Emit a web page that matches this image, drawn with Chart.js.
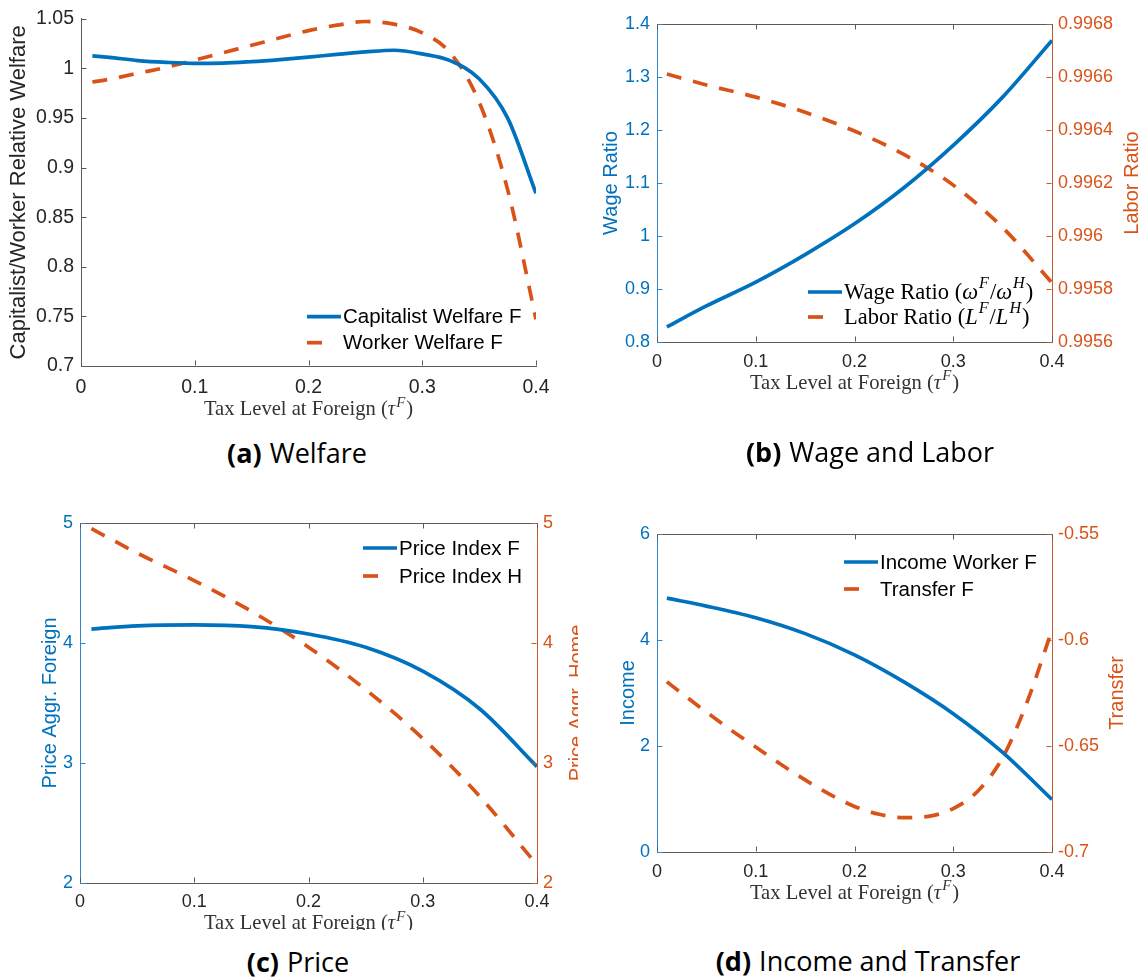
<!DOCTYPE html>
<html>
<head>
<meta charset="utf-8">
<script src="https://cdn.jsdelivr.net/npm/chart.js@4.4.1/dist/chart.umd.min.js"></script>
<style>
  body { margin: 0; background: #fff; width: 1145px; height: 979px; position: relative; overflow: hidden; }
  .panel { position: absolute; }
  .panel canvas { display: block; }
  .cap { position: absolute; width: 600px; text-align: center; font-family: 'Open Sans', sans-serif;
         font-size: 27px; line-height: 30px; color: #000; white-space: nowrap; }
  .cap b { font-weight: 700; margin-right: 8px; }
</style>
</head>
<body>
<div class="panel" style="left:0;top:0"><canvas id="welfare" width="572" height="430"></canvas></div>
<div class="panel" style="left:572px;top:0"><canvas id="wageLabor" width="573" height="430"></canvas></div>
<div class="panel" style="left:0;top:480px"><canvas id="price" width="578" height="450"></canvas></div>
<div class="panel" style="left:572px;top:480px"><canvas id="income" width="573" height="445"></canvas></div>

<div class="cap" style="left:-3px;top:438px"><b>(a)</b>Welfare</div>
<div class="cap" style="left:570px;top:437px"><b>(b)</b>Wage and Labor</div>
<div class="cap" style="left:-2px;top:947px"><b>(c)</b>Price</div>
<div class="cap" style="left:568px;top:946px"><b>(d)</b>Income and Transfer</div>

<script>
// ---- data ----
const taxTicks = [0, 0.1, 0.2, 0.3, 0.4];
const taxTickLabels = ['0', '0.1', '0.2', '0.3', '0.4'];

// tax grids
const taxFine = [0.01, 0.025, 0.05, 0.075, 0.1, 0.125, 0.15, 0.175, 0.2, 0.225, 0.25, 0.275, 0.3, 0.325, 0.35, 0.375, 0.4];
const taxCoarse = [0.01, 0.05, 0.1, 0.15, 0.2, 0.25, 0.3, 0.35, 0.4];

// (a) welfare
const capitalistWelfare = [1.0126, 1.011, 1.0078, 1.006, 1.005, 1.0052, 1.0067, 1.0088, 1.0113, 1.014, 1.0165, 1.0182, 1.0145, 1.0075, 0.9895, 0.950, 0.874];
const workerWelfare = [0.9862, 0.989, 0.995, 1.001, 1.0083, 1.0158, 1.0232, 1.0308, 1.038, 1.0435, 1.0472, 1.0445, 1.0358, 1.015, 0.966, 0.878, 0.747];
const welfareTicks = [0.7, 0.75, 0.8, 0.85, 0.9, 0.95, 1, 1.05];
const welfareTickLabels = ['0.7', '0.75', '0.8', '0.85', '0.9', '0.95', '1', '1.05'];

// (b) wage and labor
const wageRatio = [0.8284, 0.868, 0.913, 0.965, 1.023, 1.091, 1.171, 1.262, 1.369];
const laborRatio = [0.996611, 0.99657, 0.996524, 0.996467, 0.996396, 0.996308, 0.996192, 0.996032, 0.995823];
const wageTicks = [0.8, 0.9, 1, 1.1, 1.2, 1.3, 1.4];
const wageTickLabels = ['0.8', '0.9', '1', '1.1', '1.2', '1.3', '1.4'];
const laborTicks = [0.9956, 0.9958, 0.996, 0.9962, 0.9964, 0.9966, 0.9968];
const laborTickLabels = ['0.9956', '0.9958', '0.996', '0.9962', '0.9964', '0.9966', '0.9968'];

// (c) price
const priceIndexF = [4.116, 4.142, 4.151, 4.136, 4.075, 3.964, 3.765, 3.45, 2.97];
const priceIndexH = [4.953, 4.75, 4.52, 4.265, 3.965, 3.612, 3.205, 2.72, 2.15];
const priceTicks = [2, 3, 4, 5];
const priceTickLabels = ['2', '3', '4', '5'];

// (d) income and transfer
const incomeWorker = [4.79, 4.64, 4.42, 4.12, 3.72, 3.21, 2.61, 1.88, 0.99];
const transferF = [-0.6197, -0.6251, -0.634, -0.6425, -0.6505, -0.6585, -0.666, -0.6728, -0.6785, -0.6822, -0.6838, -0.6832, -0.6795, -0.6712, -0.6555, -0.629, -0.5952];
const incomeTicks = [0, 2, 4, 6];
const incomeTickLabels = ['0', '2', '4', '6'];
const transferTicks = [-0.7, -0.65, -0.6, -0.55];
const transferTickLabels = ['-0.7', '-0.65', '-0.6', '-0.55'];

// ---- styling ----
const colors = {
    blue: '#0072BD',
    orange: '#D95319',
    text: '#262626',
    frame: '#5a5a5a',
    blueAxis: '#2f86cc',
    orangeAxis: '#c45a2c'
};
const SANS = "'Liberation Sans', Arial, sans-serif";
const SERIF = "'Liberation Serif', 'Times New Roman', serif";
const DASH = [15, 12];

Chart.defaults.font.family = SANS;
Chart.defaults.color = colors.text;
Chart.defaults.animation = false;

const pts = (xs, ys) => xs.map((x, i) => ({ x: x, y: ys[i] }));
const xTitleParts = ['Tax Level at Foreign (', ['τ', 'i'], ['F', 's'], ')'];

// rich text: strings are upright, ['x','i'] italic, ['x','s'] italic superscript
function partOf(p) { return typeof p === 'string' ? { t: p, s: '' } : { t: p[0], s: p[1] }; }
function setFont(ctx, p, size, family) {
    const it = p.s ? 'italic ' : '';
    ctx.font = it + (p.s === 's' ? size * 0.72 : size) + 'px ' + family;
}
function drawRich(ctx, parts, x, y, size, family, align) {
    const ps = parts.map(partOf);
    let w = 0;
    ps.forEach(p => { setFont(ctx, p, size, family); w += ctx.measureText(p.t).width + (p.s ? 1 : 0); });
    let cx = align === 'center' ? x - w / 2 : x;
    ps.forEach(p => {
        setFont(ctx, p, size, family);
        ctx.fillText(p.t, cx, y + (p.s === 's' ? -size * 0.4 : 0));
        cx += ctx.measureText(p.t).width + (p.s ? 1 : 0);
    });
}

// MATLAB-like frame: inward ticks, box, right label, x label, legend
const matlabAxes = {
    id: 'matlabAxes',
    afterDraw(chart, args, o) {
        const { ctx, chartArea: a, scales } = chart;
        const tl = 5;
        ctx.save();
        ctx.lineWidth = 1;
        const seg = (x1, y1, x2, y2, c) => {
            ctx.strokeStyle = c; ctx.beginPath(); ctx.moveTo(x1, y1); ctx.lineTo(x2, y2); ctx.stroke();
        };
        const top = Math.round(a.top) + 0.5, bot = Math.round(a.bottom) - 0.5;
        const lft = Math.round(a.left) + 0.5, rgt = Math.round(a.right) - 0.5;
        if (o.box) seg(a.left, top, a.right, top, colors.frame);
        scales.x.ticks.forEach(t => {
            const px = Math.round(scales.x.getPixelForValue(t.value)) + 0.5;
            seg(px, bot, px, bot - tl, colors.frame);
            if (o.box) seg(px, top, px, top + tl, colors.frame);
        });
        scales.y.ticks.forEach(t => {
            const py = Math.round(scales.y.getPixelForValue(t.value)) + 0.5;
            seg(lft, py, lft + tl, py, o.leftColor);
        });
        if (scales.y2) {
            scales.y2.ticks.forEach(t => {
                const py = Math.round(scales.y2.getPixelForValue(t.value)) + 0.5;
                seg(rgt, py, rgt - tl, py, o.rightColor);
            });
            // right label reads bottom to top
            ctx.save();
            ctx.translate(a.right + o.rightTitleDx, (a.top + a.bottom) / 2);
            ctx.rotate(-Math.PI / 2);
            ctx.fillStyle = colors.orange;
            ctx.font = '20px ' + SANS;
            ctx.textAlign = 'center';
            ctx.textBaseline = 'middle';
            ctx.fillText(o.rightTitle, 0, 0);
            ctx.restore();
        }
        // x label
        ctx.fillStyle = '#333';
        ctx.textBaseline = 'alphabetic';
        ctx.textAlign = 'left';
        drawRich(ctx, xTitleParts, (a.left + a.right) / 2, a.bottom + o.xTitleDy, 20.6, SERIF, 'center');
        // legend
        const lg = o.legend;
        chart.data.datasets.forEach((ds, i) => {
            const y = lg.rows[i];
            ctx.save();
            ctx.strokeStyle = ds.borderColor;
            ctx.lineWidth = ds.borderWidth;
            ctx.setLineDash(ds.borderDash && ds.borderDash.length ? [15, 40] : []);
            ctx.beginPath(); ctx.moveTo(lg.x, y); ctx.lineTo(lg.x + 34, y); ctx.stroke();
            ctx.restore();
            ctx.fillStyle = '#000';
            ctx.textBaseline = 'middle';
            if (lg.rich) {
                drawRich(ctx, lg.rich[i], lg.x + 36, y + 1, lg.size, SERIF, 'left');
            } else {
                ctx.font = lg.size + 'px ' + SANS;
                ctx.fillText(ds.label, lg.x + 36, y + 1);
            }
        });
        ctx.restore();
    }
};

function line(label, xs, ys, color, dashed, axis) {
    return {
        label: label,
        data: pts(xs, ys),
        yAxisID: axis || 'y',
        borderColor: color,
        backgroundColor: color,
        borderWidth: 3.7,
        borderDash: dashed ? DASH : [],
        borderCapStyle: 'butt',
        pointRadius: 0,
        cubicInterpolationMode: 'monotone',
        fill: false
    };
}

function fixedTicks(values, labels) {
    return {
        afterBuildTicks: s => { s.ticks = values.map(v => ({ value: v })); },
        callback: (v, i) => labels[i]
    };
}

function makePanel(id, p) {
    const el = document.getElementById(id);
    const W = el.width, H = el.height;
    const xt = fixedTicks(taxTicks, taxTickLabels);
    const yt = fixedTicks(p.yTicks, p.yLabels);
    const scales = {
        x: {
            type: 'linear', min: 0, max: 0.4,
            afterBuildTicks: xt.afterBuildTicks,
            afterFit: s => { s.height = H - p.area.b; },
            ticks: { callback: xt.callback, autoSkip: false, maxRotation: 0, padding: p.xPad,
                     font: { size: p.tick }, color: colors.text },
            grid: { display: false, drawTicks: false },
            border: { display: true, color: colors.frame, width: 1 }
        },
        y: {
            type: 'linear', position: 'left', min: p.yTicks[0], max: p.yTicks[p.yTicks.length - 1],
            afterBuildTicks: yt.afterBuildTicks,
            afterFit: s => { s.width = p.area.l; },
            ticks: { callback: yt.callback, autoSkip: false, padding: 7, font: { size: p.tick }, color: p.leftText },
            grid: { display: false, drawTicks: false },
            border: { display: true, color: p.leftColor, width: 1 },
            title: { display: true, text: p.yTitle, color: p.leftText, font: { size: p.yTitleSize },
                     padding: { top: p.yTitlePad, bottom: 0 } }
        }
    };
    if (p.y2Ticks) {
        const y2t = fixedTicks(p.y2Ticks, p.y2Labels);
        scales.y2 = {
            type: 'linear', position: 'right', min: p.y2Ticks[0], max: p.y2Ticks[p.y2Ticks.length - 1],
            afterBuildTicks: y2t.afterBuildTicks,
            afterFit: s => { s.width = W - p.area.r; },
            ticks: { callback: y2t.callback, autoSkip: false, padding: 6, font: { size: p.tick }, color: colors.orange },
            grid: { display: false, drawTicks: false },
            border: { display: true, color: colors.orangeAxis, width: 1 }
        };
    }
    new Chart(el.getContext('2d'), {
        type: 'line',
        data: { datasets: p.datasets },
        options: {
            responsive: false,
            layout: { padding: { left: 0, top: p.area.t, bottom: 0, right: p.y2Ticks ? 0 : W - p.area.r } },
            plugins: {
                legend: { display: false },
                tooltip: { enabled: false },
                matlabAxes: {
                    box: p.box, leftColor: p.leftColor, rightColor: colors.orangeAxis,
                    rightTitle: p.y2Title, rightTitleDx: p.y2TitleDx, xTitleDy: p.xTitleDy,
                    legend: p.legend
                }
            },
            scales: scales
        },
        plugins: [matlabAxes]
    });
}

// (a) Welfare
makePanel('welfare', {
    area: { l: 81, t: 13, r: 536, b: 366 }, tick: 19.5, xPad: 10, xTitleDy: 49, box: false,
    yTicks: welfareTicks, yLabels: welfareTickLabels,
    yTitle: 'Capitalist/Worker Relative Welfare', yTitleSize: 22, yTitlePad: 6,
    leftColor: colors.frame, leftText: colors.text,
    legend: { x: 307, rows: [316.7, 342.7], size: 20.5 },
    datasets: [
        line('Capitalist Welfare F', taxFine, capitalistWelfare, colors.blue, false),
        line('Worker Welfare F', taxFine, workerWelfare, colors.orange, true)
    ]
});

// (b) Wage and Labor
makePanel('wageLabor', {
    area: { l: 85, t: 24, r: 480, b: 342 }, tick: 18, xPad: 9.5, xTitleDy: 46.5, box: true,
    yTicks: wageTicks, yLabels: wageTickLabels,
    y2Ticks: laborTicks, y2Labels: laborTickLabels, y2Title: 'Labor Ratio', y2TitleDx: 80,
    yTitle: 'Wage Ratio', yTitleSize: 20, yTitlePad: 27,
    leftColor: colors.blueAxis, leftText: colors.blue,
    legend: {
        x: 236, rows: [292, 317], size: 22.5,
        rich: [
            ['Wage Ratio (', ['ω', 'i'], ['F', 's'], '/', ['ω', 'i'], ['H', 's'], ')'],
            ['Labor Ratio (', ['L', 'i'], ['F', 's'], '/', ['L', 'i'], ['H', 's'], ')']
        ]
    },
    datasets: [
        line('Wage Ratio (ωF/ωH)', taxCoarse, wageRatio, colors.blue, false),
        line('Labor Ratio (LF/LH)', taxCoarse, laborRatio, colors.orange, true, 'y2')
    ]
});

// (c) Price
makePanel('price', {
    area: { l: 80, t: 43, r: 537, b: 403 }, tick: 18, xPad: 8.6, xTitleDy: 46, box: true,
    yTicks: priceTicks, yLabels: priceTickLabels,
    y2Ticks: priceTicks, y2Labels: priceTickLabels, y2Title: 'Price Aggr. Home', y2TitleDx: 40,
    yTitle: 'Price Aggr. Foreign', yTitleSize: 20, yTitlePad: 38,
    leftColor: colors.blueAxis, leftText: colors.blue,
    legend: { x: 363, rows: [68, 96], size: 20.5 },
    datasets: [
        line('Price Index F', taxCoarse, priceIndexF, colors.blue, false),
        line('Price Index H', taxCoarse, priceIndexH, colors.orange, true, 'y2')
    ]
});

// (d) Income and Transfer
makePanel('income', {
    area: { l: 85, t: 54, r: 480, b: 372 }, tick: 18, xPad: 9.5, xTitleDy: 46.5, box: true,
    yTicks: incomeTicks, yLabels: incomeTickLabels,
    y2Ticks: transferTicks, y2Labels: transferTickLabels, y2Title: 'Transfer', y2TitleDx: 65,
    yTitle: 'Income', yTitleSize: 20, yTitlePad: 44,
    leftColor: colors.blueAxis, leftText: colors.blue,
    legend: { x: 272, rows: [82, 109], size: 20.5 },
    datasets: [
        line('Income Worker F', taxCoarse, incomeWorker, colors.blue, false),
        line('Transfer F', taxFine, transferF, colors.orange, true, 'y2')
    ]
});
</script>
</body>
</html>
